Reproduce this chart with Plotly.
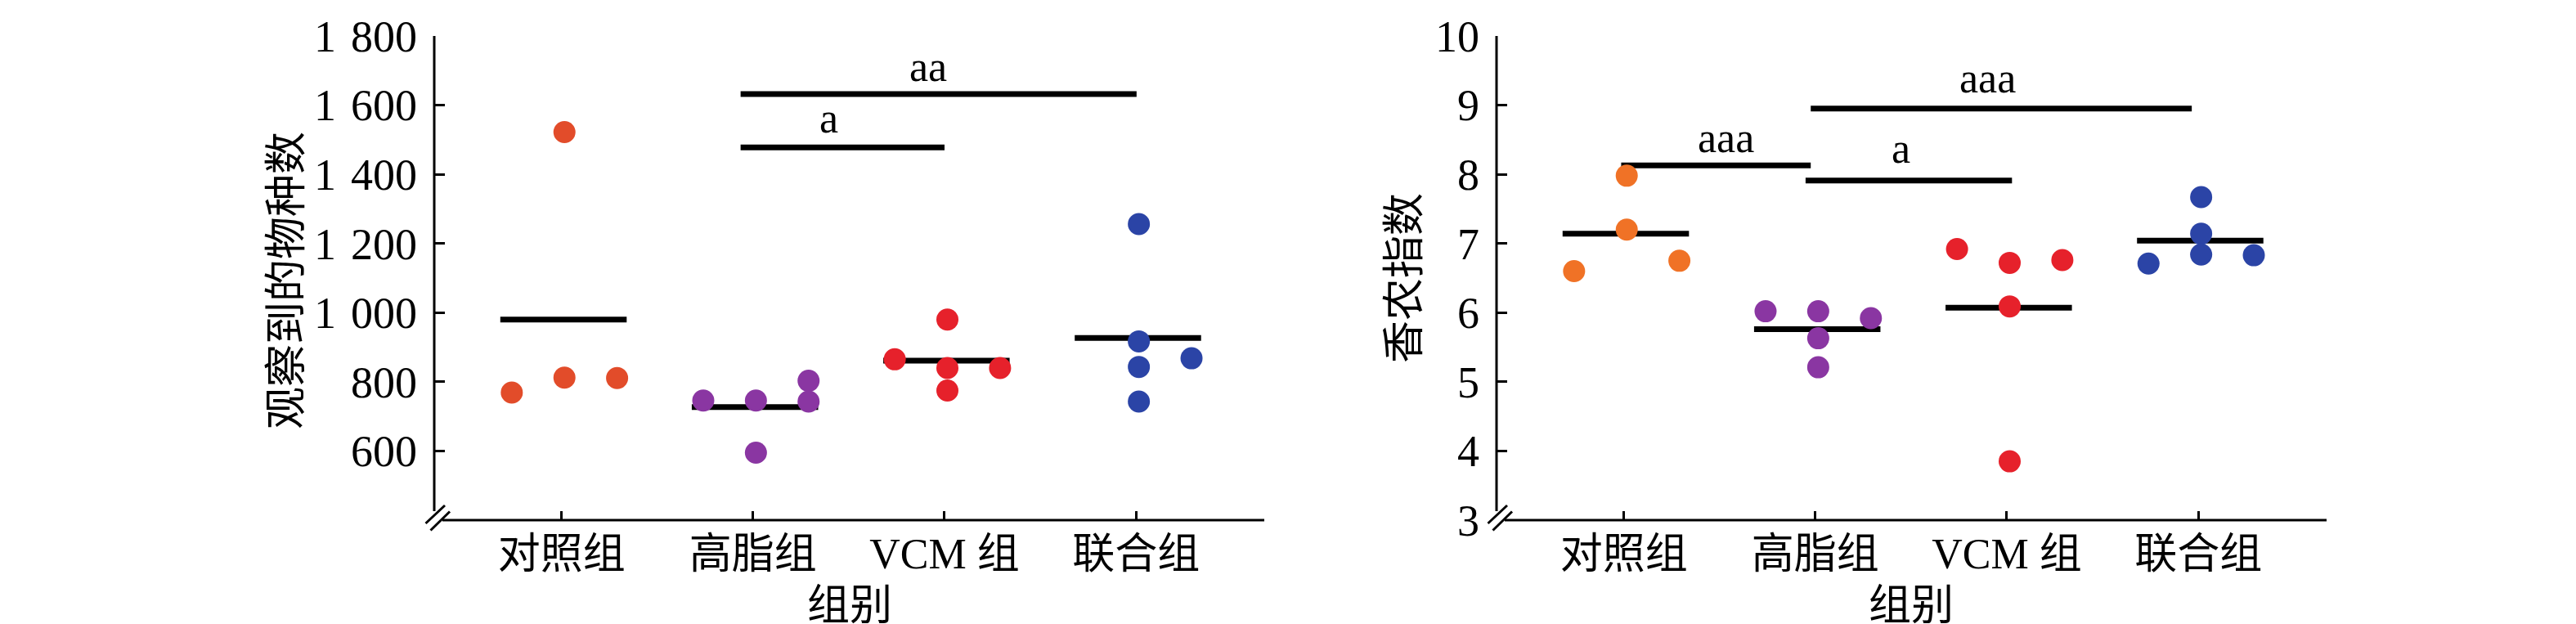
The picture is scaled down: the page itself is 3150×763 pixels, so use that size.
import plotly.graph_objects as go

# ---------------- data ----------------
groups = ["对照组", "高脂组", "VCM 组", "联合组"]

# left panel: observed species
obs_values = [
    [769, 1522, 812, 811],
    [746, 746, 803, 743, 595],
    [865, 980, 840, 840, 775],
    [1256, 917, 868, 843, 743],
]
obs_cols = [
    [-1, 0, 0, 1],
    [-1, 0, 1, 1, 0],
    [-1, 0, 0, 1, 0],
    [0, 0, 1, 0, 0],
]
obs_means = [980, 727, 861, 927]
obs_ticks = [600, 800, 1000, 1200, 1400, 1600, 1800]
obs_ticktext = ["600", "800", "1\u2004000", "1\u2004200", "1\u2004400", "1\u2004600", "1\u2004800"]
# significance bars: start, end, level, label, label x, label y
obs_sig_start = [0.935, 0.935]
obs_sig_end = [3.003, 2.0]
obs_sig_level = [1632, 1478]
obs_sig_label = ["aa", "a"]
obs_sig_label_x = [1.915, 1.395]
obs_sig_label_y = [1712, 1562]

# right panel: Shannon index
sha_values = [
    [6.60, 7.98, 7.20, 6.75],
    [6.02, 6.02, 5.92, 5.63, 5.21],
    [6.92, 6.72, 6.76, 6.09, 3.85],
    [6.71, 7.67, 7.14, 6.84, 6.83],
]
sha_cols = [
    [-1, 0, 0, 1],
    [-1, 0, 1, 0, 0],
    [-1, 0, 1, 0, 0],
    [-1, 0, 0, 0, 1],
]
sha_means = [7.14, 5.76, 6.07, 7.04]
sha_ticks = [3, 4, 5, 6, 7, 8, 9, 10]
sha_ticktext = ["3", "4", "5", "6", "7", "8", "9", "10"]
sha_sig_start = [-0.014, 0.949, 0.976]
sha_sig_end = [0.976, 2.027, 2.966]
sha_sig_level = [8.13, 7.91, 8.95]
sha_sig_label = ["aaa", "a", "aaa"]
sha_sig_label_x = [0.532, 1.447, 1.898]
sha_sig_label_y = [8.53, 8.37, 9.39]

# ---------------- styles ----------------
obs_colors = ["#E24C2A", "#8A36A2", "#E6212B", "#2B44A6"]
sha_colors = ["#F07226", "#8A36A2", "#E6212B", "#2B44A6"]
FONT = "Liberation Serif, Noto Sans CJK SC, serif"
FS = 52
COL_STEP = 0.275
COL_SHIFT = 0.015
MEAN_L, MEAN_R = -0.32, 0.34
W, H = 3150, 763
Y_TOP_PX, Y_BOT_PX = 36, 628
LEFT_PX = (523, 1538)
RIGHT_PX = (1822, 2837)
LW = 7

fig = go.Figure()


def add_panel(values, cols, means, colors, sig_s, sig_e, sig_lv, sig_lab, sig_lx, sig_ly, xa, ya):
    xref = "x" if xa == "" else "x" + xa
    yref = "y" if ya == "" else "y" + ya
    # mean lines
    mx, my = [], []
    for i, m in enumerate(means):
        mx += [i + MEAN_L, i + MEAN_R, None]
        my += [m, m, None]
    fig.add_trace(go.Scatter(x=mx, y=my, mode="lines", line=dict(color="black", width=LW),
                             xaxis=xref, yaxis=yref, showlegend=False, hoverinfo="skip"))
    # significance bars
    sx, sy = [], []
    for s, e, lv in zip(sig_s, sig_e, sig_lv):
        sx += [s, e, None]
        sy += [lv, lv, None]
    fig.add_trace(go.Scatter(x=sx, y=sy, mode="lines", line=dict(color="black", width=LW),
                             xaxis=xref, yaxis=yref, showlegend=False, hoverinfo="skip"))
    # points
    for i, (vals, cs) in enumerate(zip(values, cols)):
        xs = [i + COL_SHIFT + c * COL_STEP for c in cs]
        fig.add_trace(go.Scatter(x=xs, y=vals, mode="markers",
                                 marker=dict(color=colors[i], size=27, line=dict(width=0)),
                                 xaxis=xref, yaxis=yref, showlegend=False))
    for lab, lx, ly in zip(sig_lab, sig_lx, sig_ly):
        fig.add_annotation(x=lx, y=ly, xref=xref, yref=yref, text=lab, showarrow=False,
                           font=dict(family=FONT, size=FS, color="black"),
                           xanchor="center", yanchor="middle")


add_panel(obs_values, obs_cols, obs_means, obs_colors, obs_sig_start, obs_sig_end,
          obs_sig_level, obs_sig_label, obs_sig_label_x, obs_sig_label_y, "", "")
add_panel(sha_values, sha_cols, sha_means, sha_colors, sha_sig_start, sha_sig_end,
          sha_sig_level, sha_sig_label, sha_sig_label_x, sha_sig_label_y, "2", "2")

ydom = [1 - Y_BOT_PX / H, 1 - Y_TOP_PX / H]
common_x = dict(range=[-0.665, 3.67], tickvals=[0, 1, 2, 3], ticktext=groups,
                ticks="inside", ticklen=11, tickwidth=3, tickcolor="black",
                showline=False, showgrid=False, zeroline=False, automargin=False,
                tickfont=dict(family=FONT, size=FS, color="black"), ticklabelstandoff=6)
common_y = dict(ticks="inside", ticklen=13, tickwidth=3, tickcolor="black",
                showline=False, showgrid=False, zeroline=False, automargin=False,
                tickfont=dict(family=FONT, size=54, color="black"), ticklabelstandoff=20)

fig.update_layout(
    width=W, height=H, margin=dict(l=0, r=0, t=0, b=0, autoexpand=False),
    paper_bgcolor="white", plot_bgcolor="white",
    xaxis=dict(domain=[LEFT_PX[0] / W, LEFT_PX[1] / W], anchor="y", **common_x),
    yaxis=dict(domain=ydom, anchor="x", range=[400, 1800], tickvals=obs_ticks,
               ticktext=obs_ticktext, **common_y),
    xaxis2=dict(domain=[RIGHT_PX[0] / W, RIGHT_PX[1] / W], anchor="y2", **common_x),
    yaxis2=dict(domain=ydom, anchor="x2", range=[3, 10], tickvals=sha_ticks,
                ticktext=sha_ticktext, **common_y),
)

# axis lines with break marks (drawn in axis-domain coordinates)
plot_h = Y_BOT_PX - Y_TOP_PX
for xa, ya, (l, r) in [("x", "y", LEFT_PX), ("x2", "y2", RIGHT_PX)]:
    pw = r - l
    line = dict(color="black", width=3)
    fig.add_shape(type="line", xref=xa + " domain", yref=ya + " domain",
                  x0=0, x1=0, y0=11 / plot_h, y1=1, line=line)
    fig.add_shape(type="line", xref=xa + " domain", yref=ya + " domain",
                  x0=10 / pw, x1=1, y0=0, y1=0, line=line)
    for dx0, dy0, dx1, dy1 in [(-10.5, -4, 13, 18), (-4.5, -12.5, 19, 10.5)]:
        fig.add_shape(type="line", xref=xa + " domain", yref=ya + " domain",
                      x0=dx0 / pw, y0=dy0 / plot_h, x1=dx1 / pw, y1=dy1 / plot_h, line=line)

# axis titles
title_font = dict(family=FONT, size=FS, color="black")
fig.add_annotation(x=342 / W, y=1 - 335 / H, xref="paper", yref="paper", text="观察到的物种数",
                   textangle=-90, showarrow=False, font=title_font, xanchor="center", yanchor="middle")
fig.add_annotation(x=1710 / W, y=1 - 332 / H, xref="paper", yref="paper", text="香农指数",
                   textangle=-90, showarrow=False, font=title_font, xanchor="center", yanchor="middle")
fig.add_annotation(x=1031 / W, y=0, xref="paper", yref="paper", text="组别",
                   showarrow=False, font=title_font, xanchor="center", yanchor="bottom")
fig.add_annotation(x=2329 / W, y=0, xref="paper", yref="paper", text="组别",
                   showarrow=False, font=title_font, xanchor="center", yanchor="bottom")

fig.write_html("out.html")
